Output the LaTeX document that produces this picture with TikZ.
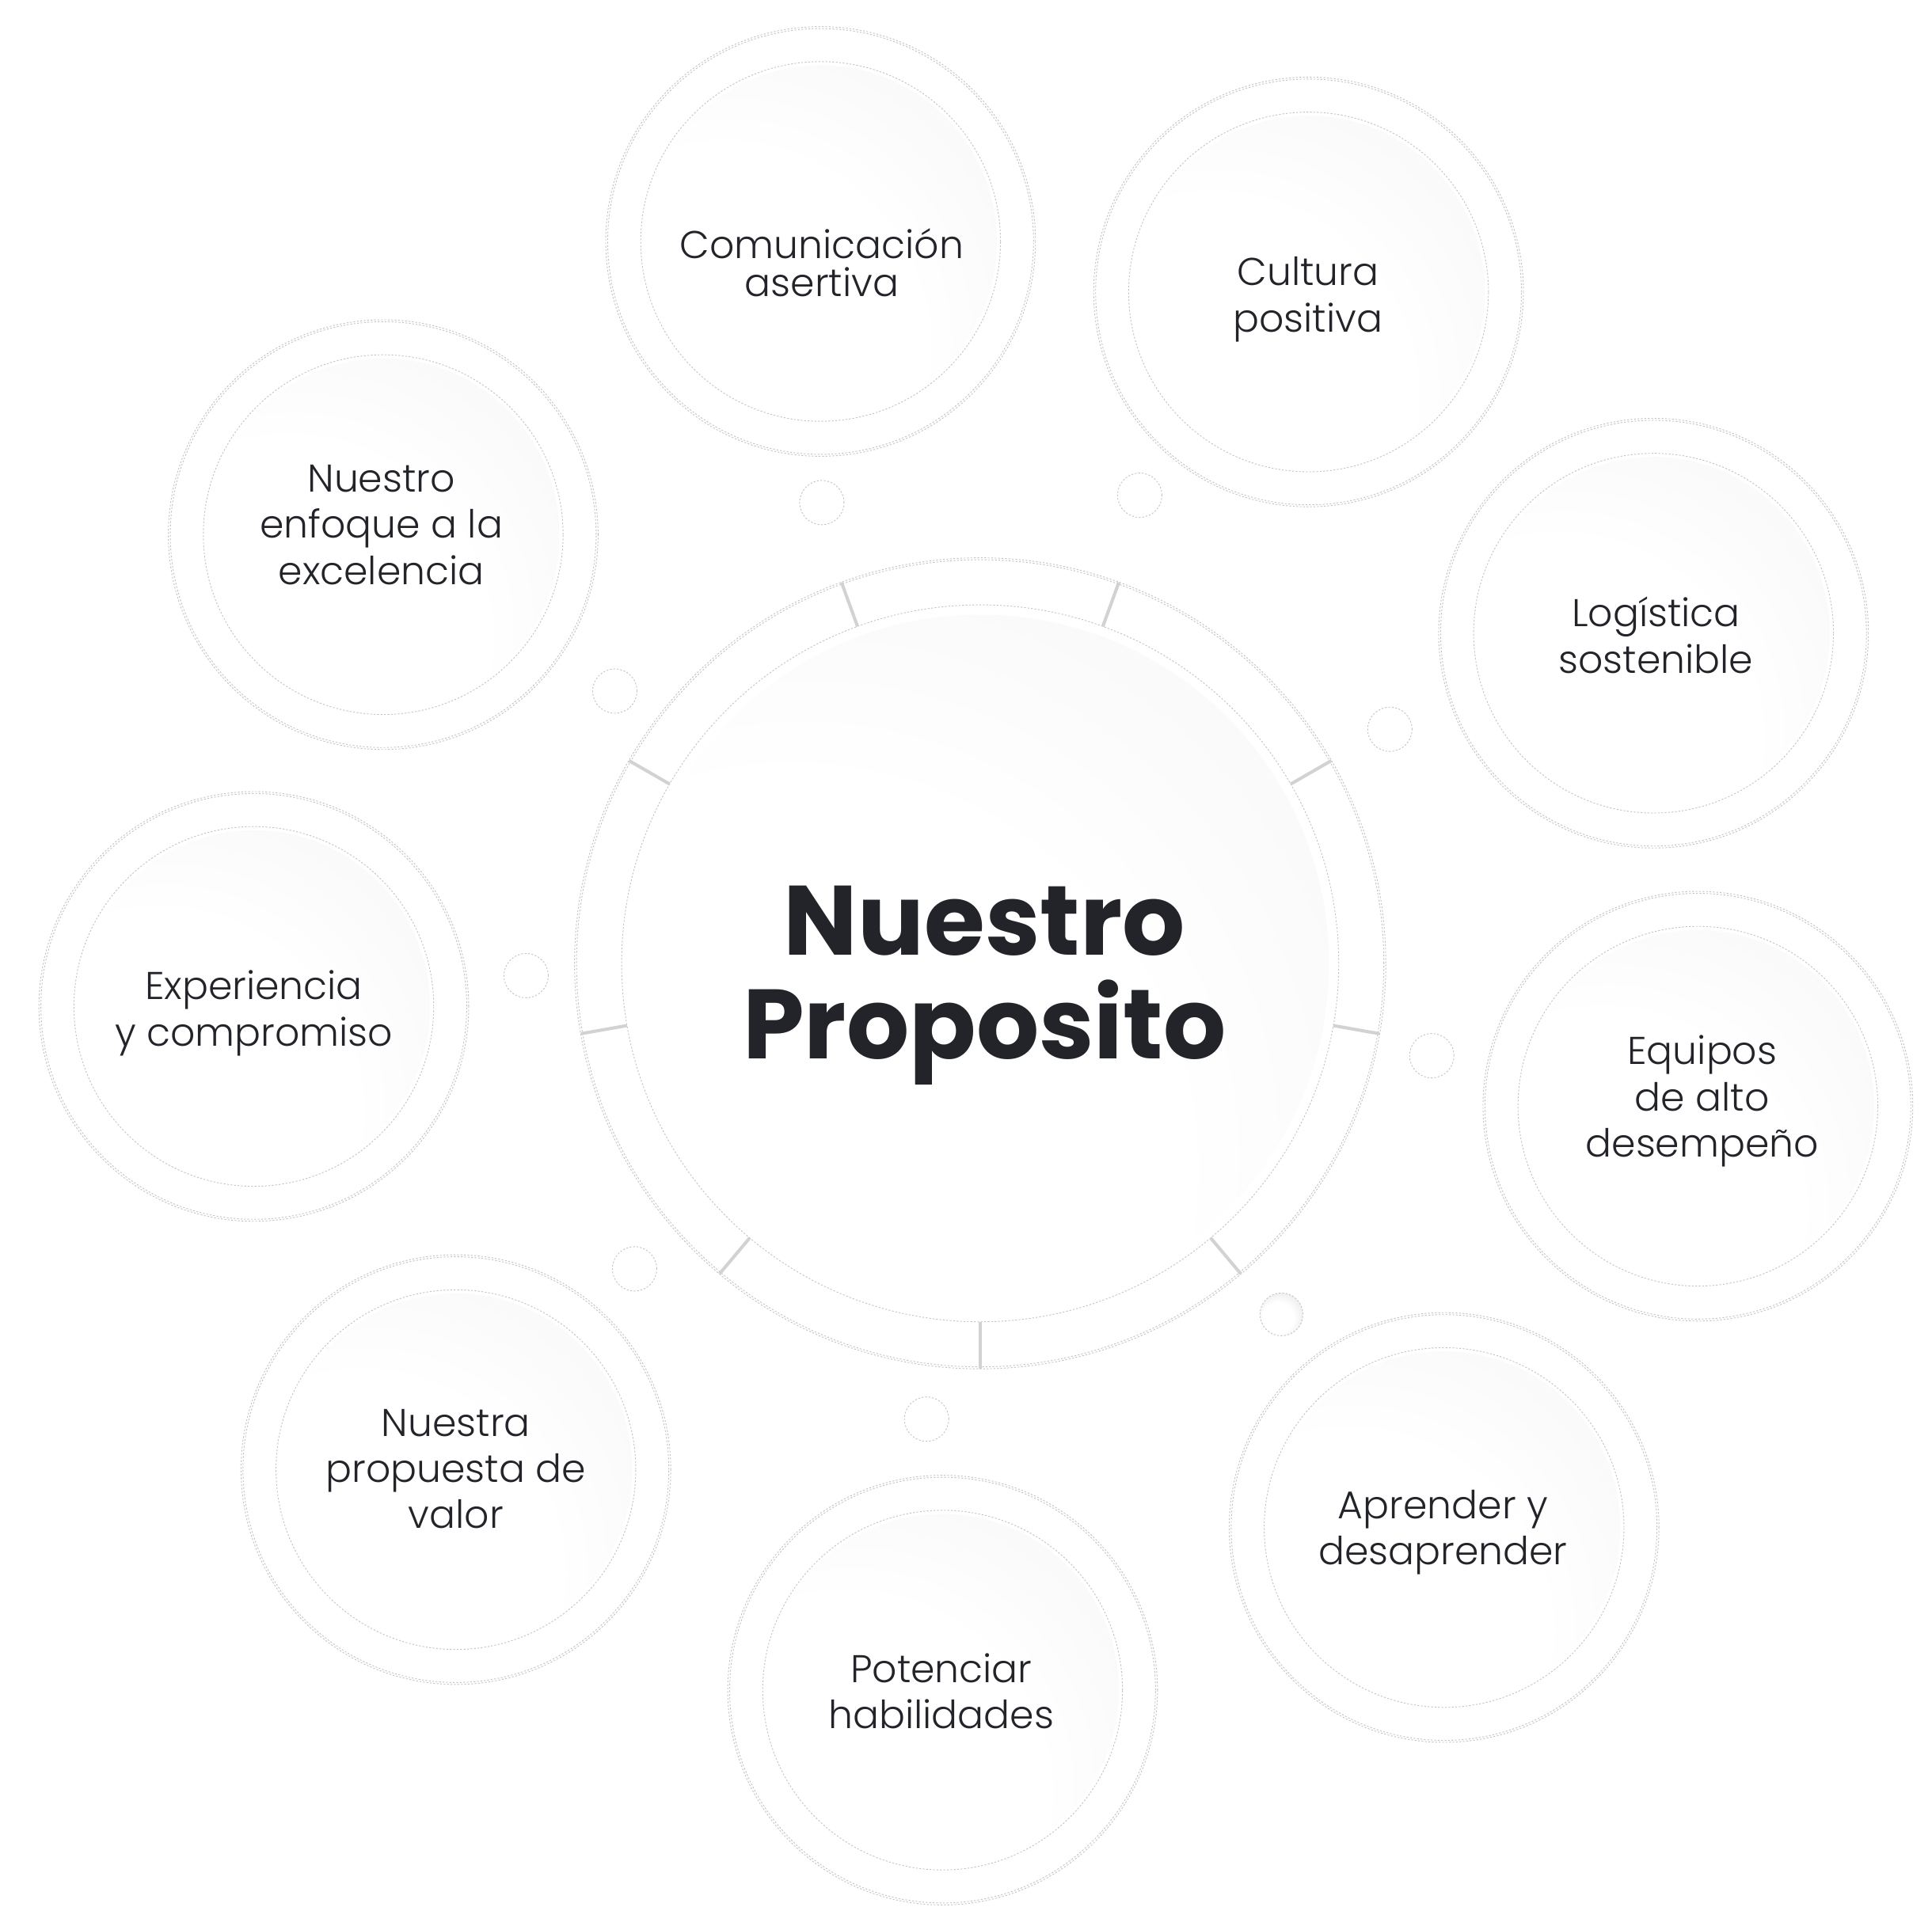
\documentclass[tikz,border=0pt]{standalone}
\usepackage{fontspec}
\newfontfamily\lightfont{Poppins Light}
\newfontfamily\heavyfont{Poppins Bold}
\definecolor{ink}{HTML}{222429}
\definecolor{ringgray}{HTML}{C4C4C4}
\definecolor{tickgray}{HTML}{D2D2D2}
\pgfdeclareradialshading{discshade}{\pgfpoint{-22bp}{-24bp}}{color(0bp)=(white); color(28bp)=(white); color(45bp)=(black!3); color(58bp)=(black!11); color(75bp)=(black!16)}
\pgfdeclareradialshading{dotshade}{\pgfpoint{-6bp}{-6bp}}{color(0bp)=(white); color(18bp)=(white); color(50bp)=(black!20)}
\tikzset{
  satdisc/.style={circle, inner sep=0pt, minimum size=143pt, shading=discshade, draw=none},
  bigdisc/.style={circle, inner sep=0pt, minimum size=283pt, shading=discshade, draw=none},
  ringline/.style={draw=ringgray, line width=0.3pt, dash pattern=on 0.7pt off 0.7pt},
  tickline/.style={draw=tickgray, line width=1.3pt},
  satlabel/.style={align=center, text=ink, inner sep=0pt, font=\lightfont\fontsize{15.7}{18.75}\selectfont},
  smallring/.style={circle, inner sep=0pt, minimum size=18pt, ringline},
}
\begin{document}
\begin{tikzpicture}[x=0.5pt,y=-0.5pt]
\fill[white] (0,0) rectangle (1568,1563);
\useasboundingbox (0,0) rectangle (1568,1563);

% small bubbles
\node[smallring] (s1) at (667,408) {};
\node[smallring] (s2) at (925,402) {};
\node[smallring] (s3) at (499,561) {};
\node[smallring] (s4) at (1128,592) {};
\node[smallring] (s5) at (427,792) {};
\node[smallring] (s6) at (1162,857) {};
\node[smallring] (s7) at (515,1030) {};
\node[circle, inner sep=0pt, minimum size=17.4pt, shading=dotshade, draw=ringgray, line width=0.3pt, dash pattern=on 0.7pt off 0.7pt] (s8) at (1040,1067) {};
\node[smallring] (s9) at (752,1152) {};

% central circle
\node[bigdisc] (cc) at (795.5,782) {};
\draw[ringline] (cc.center) circle[radius=145.5pt];
\draw[ringline] (cc.center) circle[radius=163.8pt];
\draw[ringline] (cc.center) circle[radius=164.6pt];
\foreach \a in {270,310,350,30,70,110,150,190,230}
  \draw[tickline] (cc.center) ++(\a:145.5pt) -- ++(\a:19pt);
\node[align=center, text=ink, inner sep=0pt, font=\heavyfont\fontsize{40}{42}\selectfont] (ct) at (799,800) {Nuestro\\Proposito};

% satellites
\foreach \n/\x/\y in {c1/666/196, c2/1062/237, c3/1342/514, c4/1378/898, c5/1172/1240, c6/765/1372, c7/370/1193, c8/206/817, c9/311/434}{
  \node[satdisc] (\n) at (\x,\y) {};
  \draw[ringline] (\n.center) circle[radius=73pt];
  \draw[ringline] (\n.center) circle[radius=86.4pt];
  \draw[ringline] (\n.center) circle[radius=87.2pt];
}

\node[satlabel, font=\lightfont\fontsize{15.7}{15.5}\selectfont] (t1) at (667,213) {Comunicación\\asertiva};
\node[satlabel] (t2) at (1061.5,243) {Cultura\\positiva};
\node[satlabel] (t3) at (1344,515.6) {Logística\\sostenible};
\node[satlabel] (t4) at (1381.5,894) {Equipos\\de alto\\desempeño};
\node[satlabel] (t5) at (1171,1244) {Aprender y\\desaprender};
\node[satlabel] (t6) at (764,1373) {Potenciar\\habilidades};
\node[satlabel] (t7) at (370,1192.5) {Nuestra\\propuesta de\\valor};
\node[satlabel] (t8) at (206,822.5) {Experiencia\\y compromiso};
\node[satlabel] (t9) at (309.5,426) {Nuestro\\enfoque a la\\excelencia};
\end{tikzpicture}
\end{document}
